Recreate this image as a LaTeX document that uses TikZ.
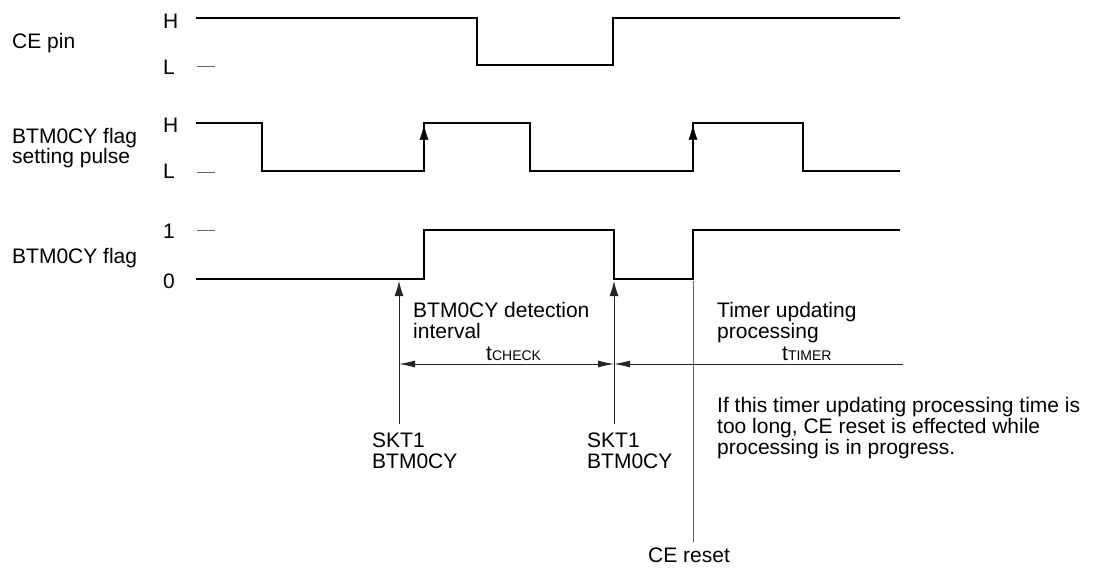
\documentclass[tikz,border=0pt]{standalone}
\usepackage{fontspec}
\setmainfont{Liberation Sans}
\usetikzlibrary{arrows.meta,decorations.markings}
\begin{document}
\begin{tikzpicture}[x=1pt,y=-1pt,
  sig/.style={line width=2.3pt, line join=miter, line cap=rect},
  levtick/.style={line width=0.8pt, black!60},
  thinln/.style={line width=0.9pt, black!85},
  txt/.style={font=\fontsize{21}{21}\selectfont, inner sep=0pt, anchor=base west},
  risearrow/.style={postaction={decorate}, decoration={markings,
      mark=at position 0.96 with {\arrow{Latex[length=15pt,width=9pt]}}}},
  evtip/.tip={Latex[length=15pt,width=9pt]},
  dimtip/.tip={Latex[length=16pt,width=7pt]},
]
\useasboundingbox (0,0) rectangle (1100,570);

% ---- labels left ----
\node[txt] (cepin) at (12,48) {CE pin};
\node[txt] (ceH) at (163,28) {H};
\node[txt] (ceL) at (163,74) {L};
\node[txt] (pulse1) at (12,143) {BTM0CY flag};
\node[txt] (pulse2) at (12,163) {setting pulse};
\node[txt] (puH) at (163,132) {H};
\node[txt] (puL) at (163,178) {L};
\node[txt] (flag) at (12,263) {BTM0CY flag};
\node[txt] (fl1) at (163,238) {1};
\node[txt] (fl0) at (163,288) {0};

% ---- level ticks ----
\draw[levtick] (197,66) -- (215,66);
\draw[levtick] (197,172) -- (215,172);
\draw[levtick] (197,230) -- (215,230);

% ---- CE pin ----
\draw[sig] (197,18) -- (477,18) -- (477,65) -- (613,65) -- (613,18) -- (899,18);

% ---- flag setting pulse ----
\draw[sig] (197,123) -- (262,123) -- (262,171) -- (424,171) -- (424,123)
  -- (530,123) -- (530,171) -- (693,171) -- (693,123) -- (803,123)
  -- (803,171) -- (899,171);
\path[risearrow] (424,171) -- (424,123);
\path[risearrow] (693,171) -- (693,123);

% ---- flag ----
\draw[sig] (197,279) -- (424,279) -- (424,230) -- (614,230) -- (614,279)
  -- (693,279) -- (693,230) -- (899,230);

% ---- event arrows ----
\coordinate (s1b) at (399,424);
\coordinate (s1t) at (399,281);
\coordinate (s2b) at (614,424);
\coordinate (s2t) at (614,281);
\coordinate (cet) at (693,281);
\coordinate (ceb) at (693,542);
\coordinate (dimA) at (399,364);
\coordinate (dimB) at (614,364);
\coordinate (dimC) at (903,364);

\draw[thinln, -evtip] (s1b) -- (s1t);
\draw[thinln, -evtip] (s2b) -- (s2t);
\draw[line width=0.9pt, black!60] (cet) -- (ceb);

\draw[thinln, dimtip-dimtip] (dimA) -- (dimB);
\draw[thinln, dimtip-] (dimB) -- (dimC);

% ---- texts ----
\node[txt] (det1) at (413,317) {BTM0CY detection};
\node[txt] (det2) at (413,338) {interval};
\node[txt] (tck) at (486,360) {t{\fontsize{14}{14}\selectfont CHECK}};
\node[txt] (tu1) at (717,317) {Timer updating};
\node[txt] (tu2) at (717,338) {processing};
\node[txt] (ttm) at (782,360) {t{\fontsize{14}{14}\selectfont TIMER}};
\node[txt] (n1) at (717,412) {If this timer updating processing time is};
\node[txt] (n2) at (717,433) {too long, CE reset is effected while};
\node[txt] (n3) at (717,454) {processing is in progress.};
\node[txt] (sa1) at (372,447) {SKT1};
\node[txt] (sa2) at (372,468) {BTM0CY};
\node[txt] (sb1) at (587,447) {SKT1};
\node[txt] (sb2) at (587,468) {BTM0CY};
\node[txt] (cer) at (648,562) {CE reset};
\end{tikzpicture}
\end{document}
